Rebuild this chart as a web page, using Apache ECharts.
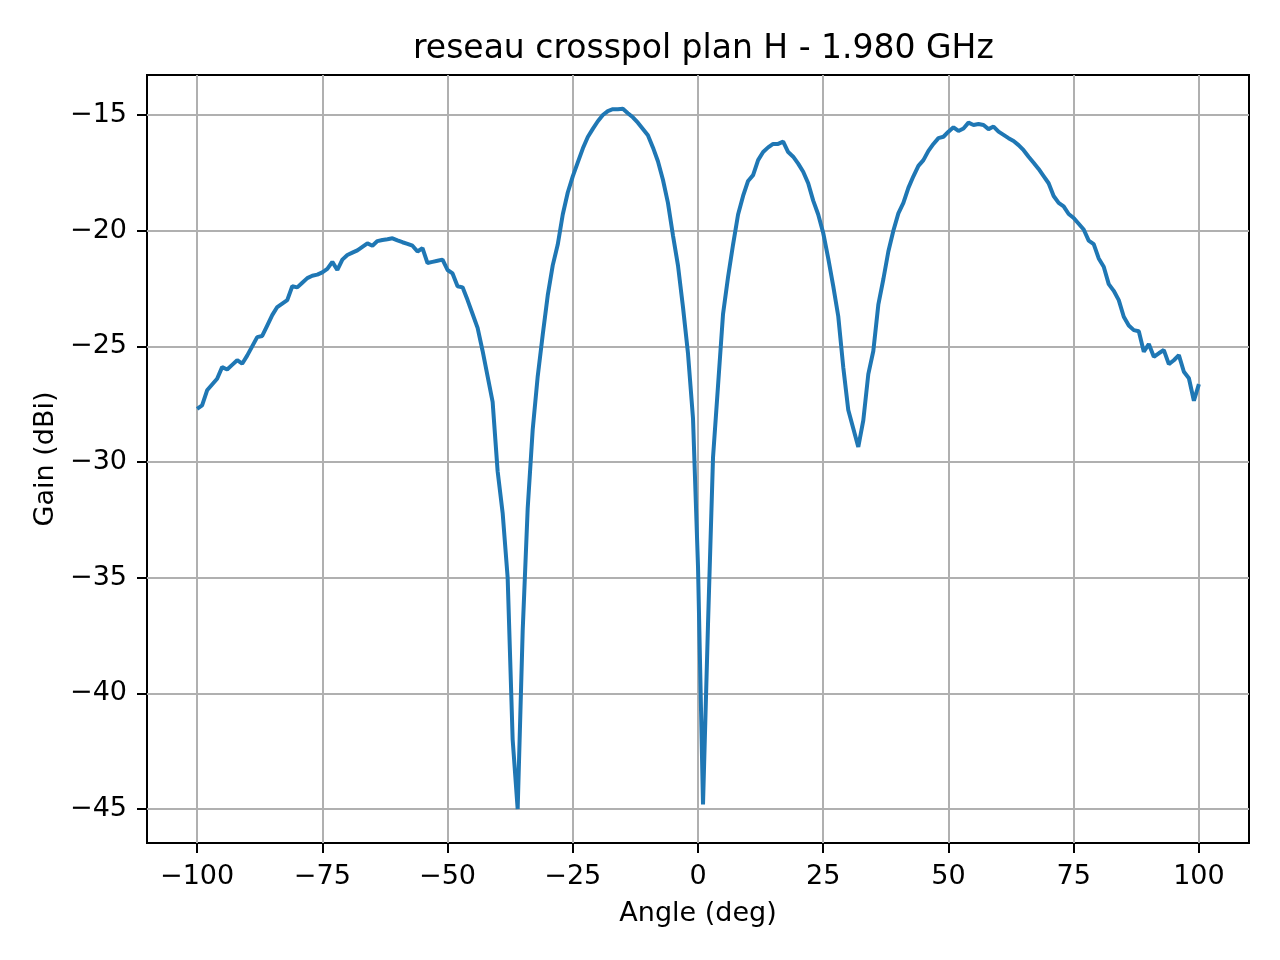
<!DOCTYPE html>
<html>
<head>
<meta charset="utf-8">
<script src="https://cdn.jsdelivr.net/npm/echarts@6/dist/echarts.min.js"></script>
<style>
  html, body { margin: 0; padding: 0; background: #fff; }
  #chart { width: 1280px; height: 960px; }
</style>
</head>
<body>
<div id="chart"></div>
<script>
// measured angles (deg), 1 degree steps
const angles = [
  -100, -99, -98, -97, -96, -95, -94, -93, -92, -91,
  -90, -89, -88, -87, -86, -85, -84, -83, -82, -81,
  -80, -79, -78, -77, -76, -75, -74, -73, -72, -71,
  -70, -69, -68, -67, -66, -65, -64, -63, -62, -61,
  -60, -59, -58, -57, -56, -55, -54, -53, -52, -51,
  -50, -49, -48, -47, -46, -45, -44, -43, -42, -41,
  -40, -39, -38, -37, -36, -35, -34, -33, -32, -31,
  -30, -29, -28, -27, -26, -25, -24, -23, -22, -21,
  -20, -19, -18, -17, -16, -15, -14, -13, -12, -11,
  -10, -9, -8, -7, -6, -5, -4, -3, -2, -1,
  0, 1, 2, 3, 4, 5, 6, 7, 8, 9,
  10, 11, 12, 13, 14, 15, 16, 17, 18, 19,
  20, 21, 22, 23, 24, 25, 26, 27, 28, 29,
  30, 31, 32, 33, 34, 35, 36, 37, 38, 39,
  40, 41, 42, 43, 44, 45, 46, 47, 48, 49,
  50, 51, 52, 53, 54, 55, 56, 57, 58, 59,
  60, 61, 62, 63, 64, 65, 66, 67, 68, 69,
  70, 71, 72, 73, 74, 75, 76, 77, 78, 79,
  80, 81, 82, 83, 84, 85, 86, 87, 88, 89,
  90, 91, 92, 93, 94, 95, 96, 97, 98, 99,
  100
];

// gain (dBi)
const gains = [
  -27.7, -27.55, -26.9, -26.65, -26.4, -25.9, -26.0, -25.8, -25.6, -25.75,   // -100..-91
  -25.4, -25.0, -24.6, -24.55, -24.1, -23.65, -23.3, -23.15, -23.0, -22.4,   // -90..-81
  -22.45, -22.25, -22.05, -21.95, -21.9, -21.8, -21.65, -21.35, -21.7, -21.25, // -80..-71
  -21.05, -20.95, -20.85, -20.7, -20.55, -20.65, -20.45, -20.4, -20.37, -20.33, // -70..-61
  -20.42, -20.5, -20.57, -20.65, -20.9, -20.75, -21.4, -21.35, -21.3, -21.25, // -60..-51
  -21.7, -21.85, -22.4, -22.45, -23.0, -23.6, -24.2, -25.2, -26.3, -27.4,    // -50..-41
  -30.4, -32.2, -35.0, -42.0, -45.0, -37.3, -32.0, -28.6, -26.3, -24.5,      // -40..-31
  -22.8, -21.5, -20.6, -19.3, -18.35, -17.65, -17.05, -16.45, -15.95, -15.6, // -30..-21
  -15.27, -15.0, -14.83, -14.75, -14.75, -14.73, -14.92, -15.1, -15.33, -15.6, // -20..-11
  -15.87, -16.4, -17.0, -17.8, -18.8, -20.2, -21.5, -23.3, -25.3, -28.1,     // -10..-1
  -34.5, -44.8, -37.0, -29.8, -26.7, -23.6, -22.0, -20.6, -19.3, -18.5,      // 0..9
  -17.85, -17.6, -16.95, -16.6, -16.4, -16.25, -16.25, -16.15, -16.6, -16.8, // 10..19
  -17.1, -17.45, -17.95, -18.7, -19.3, -20.1, -21.2, -22.4, -23.7, -25.9,    // 20..29
  -27.75, -28.55, -29.35, -28.2, -26.2, -25.2, -23.2, -22.1, -20.9, -20.0,   // 30..39
  -19.25, -18.8, -18.15, -17.65, -17.2, -16.95, -16.55, -16.25, -16.0, -15.94, // 40..49
  -15.72, -15.53, -15.69, -15.58, -15.33, -15.43, -15.39, -15.43, -15.61, -15.5, // 50..59
  -15.72, -15.86, -16.0, -16.12, -16.3, -16.52, -16.8, -17.06, -17.33, -17.64, // 60..69
  -17.95, -18.5, -18.8, -18.95, -19.28, -19.45, -19.7, -19.95, -20.43, -20.58, // 70..79
  -21.2, -21.56, -22.31, -22.6, -23.0, -23.72, -24.1, -24.3, -24.35, -25.23, // 80..89
  -24.9, -25.45, -25.3, -25.16, -25.77, -25.6, -25.38, -26.1, -26.38, -27.35, // 90..99
  -26.63                                                                     // 100
];

const xTicks = [-100, -75, -50, -25, 0, 25, 50, 75, 100];
const yTicks = [-45, -40, -35, -30, -25, -20, -15];

const chart = echarts.init(document.getElementById('chart'));
const font = 'DejaVu Sans';

const fmt = v => (v < 0 ? '\u2212' + Math.abs(v) : String(v));

chart.setOption({
  animation: false,
  backgroundColor: '#fff',
  title: {
    text: 'reseau crosspol plan H - 1.980 GHz',
    left: 408,
    top: 28,
    textStyle: { fontFamily: font, fontSize: 33, fontWeight: 'normal', color: '#000' }
  },
  grid: {
    left: 147, right: 31, top: 75, bottom: 117,
    show: true, borderColor: '#000', borderWidth: 2, backgroundColor: 'transparent'
  },
  xAxis: {
    type: 'value',
    min: -110, max: 110,
    name: 'Angle (deg)',
    nameLocation: 'middle',
    nameGap: 57,
    nameTextStyle: { fontFamily: font, fontSize: 27, color: '#000' },
    axisLine: { show: false, onZero: false },
    axisTick: { show: true, inside: false, length: 10, customValues: xTicks,
      lineStyle: { color: '#000', width: 2 } },
    axisLabel: { margin: 20, customValues: xTicks, formatter: fmt,
      fontFamily: font, fontSize: 27, color: '#000' },
    splitLine: { show: true, lineStyle: { color: '#b0b0b0', width: 2 } }
  },
  yAxis: {
    type: 'value',
    min: -46.47, max: -13.27,
    name: 'Gain (dBi)',
    nameLocation: 'middle',
    nameGap: 88,
    nameTextStyle: { fontFamily: font, fontSize: 27, color: '#000' },
    axisLine: { show: false, onZero: false },
    axisTick: { show: true, inside: false, length: 10, customValues: yTicks,
      lineStyle: { color: '#000', width: 2 } },
    axisLabel: { margin: 20, customValues: yTicks, formatter: fmt,
      fontFamily: font, fontSize: 27, color: '#000' },
    splitLine: { show: true, lineStyle: { color: '#b0b0b0', width: 2 } }
  },
  series: [{
    type: 'line',
    data: angles.map((a, i) => [a, gains[i]]),
    showSymbol: false,
    lineStyle: { color: '#1f77b4', width: 4 },
    itemStyle: { color: '#1f77b4' }
  }]
});
</script>
</body>
</html>
